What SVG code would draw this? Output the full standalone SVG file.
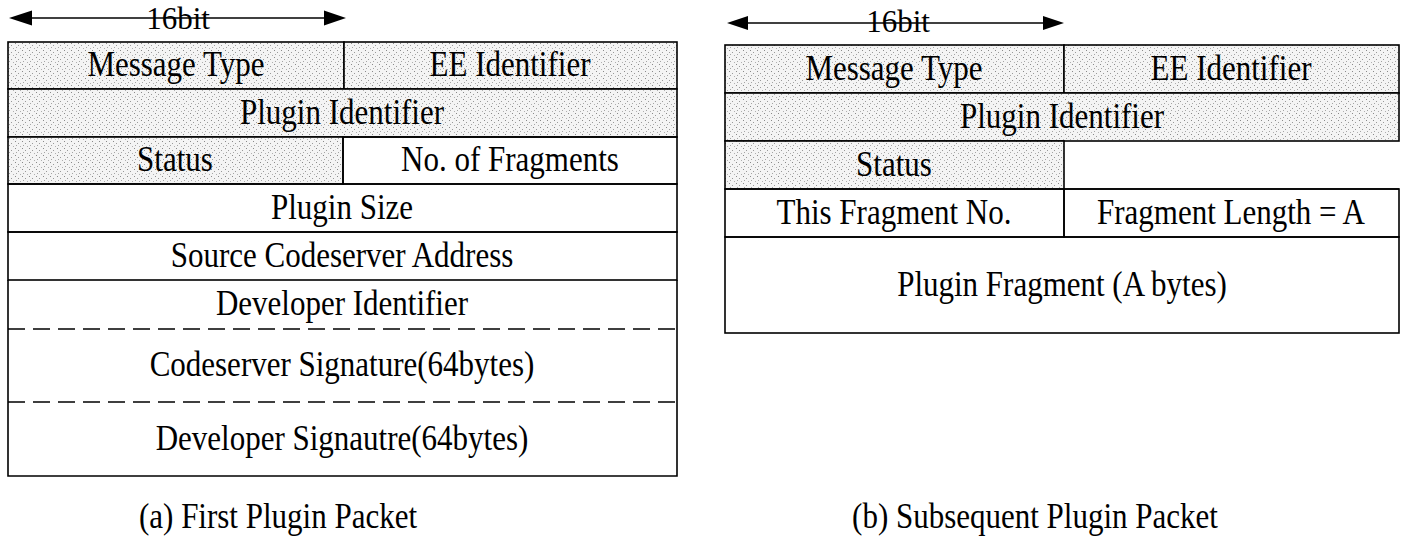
<svg xmlns="http://www.w3.org/2000/svg" width="1403" height="540" viewBox="0 0 1403 540">
<defs>
<pattern id="stip" width="7" height="7" patternUnits="userSpaceOnUse">
<rect width="7" height="7" fill="#f4f4f4"/>
<rect x="1" y="1" width="1" height="1" fill="#8a8a8a"/>
<rect x="4" y="3" width="1" height="1" fill="#9a9a9a"/>
<rect x="2" y="5" width="1" height="1" fill="#a5a5a5"/>
<rect x="6" y="6" width="1" height="1" fill="#b0b0b0"/>
</pattern>
</defs>
<style>
.t{font-family:"Liberation Serif","Times New Roman",serif;font-size:31px;text-anchor:middle;fill:#000}
.shade{fill:url(#stip);stroke:none}
.ln{stroke:#000;stroke-width:1.6;fill:none}
.dash{stroke:#000;stroke-width:1.6;fill:none;stroke-dasharray:17 8}
.arr{stroke:#000;stroke-width:1.5;fill:none}
.head{fill:#000;stroke:none}
</style>
<rect width="1403" height="540" fill="#fff"/>

<g id="connectors">
<line class="arr" x1="20" y1="18" x2="335" y2="18"/>
<polygon class="head" points="9,18 32,10.5 32,25.5"/>
<polygon class="head" points="346,18 324,10.5 324,25.5"/>
<line class="arr" x1="738" y1="23" x2="1053" y2="23"/>
<polygon class="head" points="727,23 748,16 748,30"/>
<polygon class="head" points="1064,23 1043,16 1043,30"/>
</g>
<g id="width-labels">
<text class="t" x="178" y="29">16bit</text>
<text class="t" x="898" y="32">16bit</text>
</g>

<g id="packet-a">
<g id="a-message-type"><rect class="shade" x="8" y="42" width="336" height="47"/><rect class="ln" x="8" y="42" width="336" height="47"/><text class="t" transform="translate(176,76) scale(1,1.16)">Message Type</text></g>
<g id="a-ee-identifier"><rect class="shade" x="344" y="42" width="333" height="47"/><rect class="ln" x="344" y="42" width="333" height="47"/><text class="t" transform="translate(510,76) scale(1,1.16)">EE Identifier</text></g>
<g id="a-plugin-identifier"><rect class="shade" x="8" y="89" width="669" height="48"/><rect class="ln" x="8" y="89" width="669" height="48"/><text class="t" transform="translate(342,124) scale(1,1.16)">Plugin Identifier</text></g>
<g id="a-status"><rect class="shade" x="8" y="137" width="335" height="47"/><rect class="ln" x="8" y="137" width="335" height="47"/><text class="t" transform="translate(175,171) scale(1,1.16)">Status</text></g>
<g id="a-fragments"><rect class="ln" x="343" y="137" width="334" height="47"/><text class="t" transform="translate(510,171) scale(1,1.16)">No. of Fragments</text></g>
<g id="a-plugin-size"><rect class="ln" x="8" y="184" width="669" height="48"/><text class="t" transform="translate(342,219) scale(1,1.16)">Plugin Size</text></g>
<g id="a-source"><rect class="ln" x="8" y="232" width="669" height="48"/><text class="t" transform="translate(342,267) scale(1,1.16)">Source Codeserver Address</text></g>
<g id="a-developer-id"><line class="ln" x1="8" y1="280" x2="8" y2="329"/><line class="ln" x1="677" y1="280" x2="677" y2="329"/><text class="t" transform="translate(342,315) scale(1,1.16)">Developer Identifier</text></g>
<g id="a-codeserver-sig"><line class="dash" x1="8" y1="329" x2="677" y2="329"/><line class="ln" x1="8" y1="329" x2="8" y2="402"/><line class="ln" x1="677" y1="329" x2="677" y2="402"/><text class="t" transform="translate(342,376) scale(1,1.16)">Codeserver Signature(64bytes)</text></g>
<g id="a-developer-sig"><line class="dash" x1="8" y1="402" x2="677" y2="402"/><path class="ln" d="M8,402 V476 H677 V402"/><text class="t" transform="translate(342,450) scale(1,1.16)">Developer Signautre(64bytes)</text></g>
</g>

<g id="packet-b">
<g id="b-message-type"><rect class="shade" x="725" y="45" width="339" height="48"/><rect class="ln" x="725" y="45" width="339" height="48"/><text class="t" transform="translate(894,80) scale(1,1.16)">Message Type</text></g>
<g id="b-ee-identifier"><rect class="shade" x="1064" y="45" width="335" height="48"/><rect class="ln" x="1064" y="45" width="335" height="48"/><text class="t" transform="translate(1231,80) scale(1,1.16)">EE Identifier</text></g>
<g id="b-plugin-identifier"><rect class="shade" x="725" y="93" width="674" height="48"/><rect class="ln" x="725" y="93" width="674" height="48"/><text class="t" transform="translate(1062,128) scale(1,1.16)">Plugin Identifier</text></g>
<g id="b-status"><rect class="shade" x="725" y="141" width="339" height="48"/><rect class="ln" x="725" y="141" width="339" height="48"/><text class="t" transform="translate(894,176) scale(1,1.16)">Status</text></g>
<g id="b-empty"><path class="ln" d="M1064,189 H1399"/></g>
<g id="b-this-fragment"><rect class="ln" x="725" y="189" width="339" height="48"/><text class="t" transform="translate(894,224) scale(1,1.16)">This Fragment No.</text></g>
<g id="b-fragment-length"><rect class="ln" x="1064" y="189" width="335" height="48"/><text class="t" transform="translate(1231,224) scale(1,1.16)">Fragment Length = A</text></g>
<g id="b-plugin-fragment"><rect class="ln" x="725" y="237" width="674" height="96"/><text class="t" transform="translate(1062,296) scale(1,1.16)">Plugin Fragment (A bytes)</text></g>
</g>

<g id="captions">
<text class="t" transform="translate(278,528) scale(1,1.16)">(a) First Plugin Packet</text>
<text class="t" transform="translate(1035,528) scale(1,1.16)">(b) Subsequent Plugin Packet</text>
</g>
</svg>
